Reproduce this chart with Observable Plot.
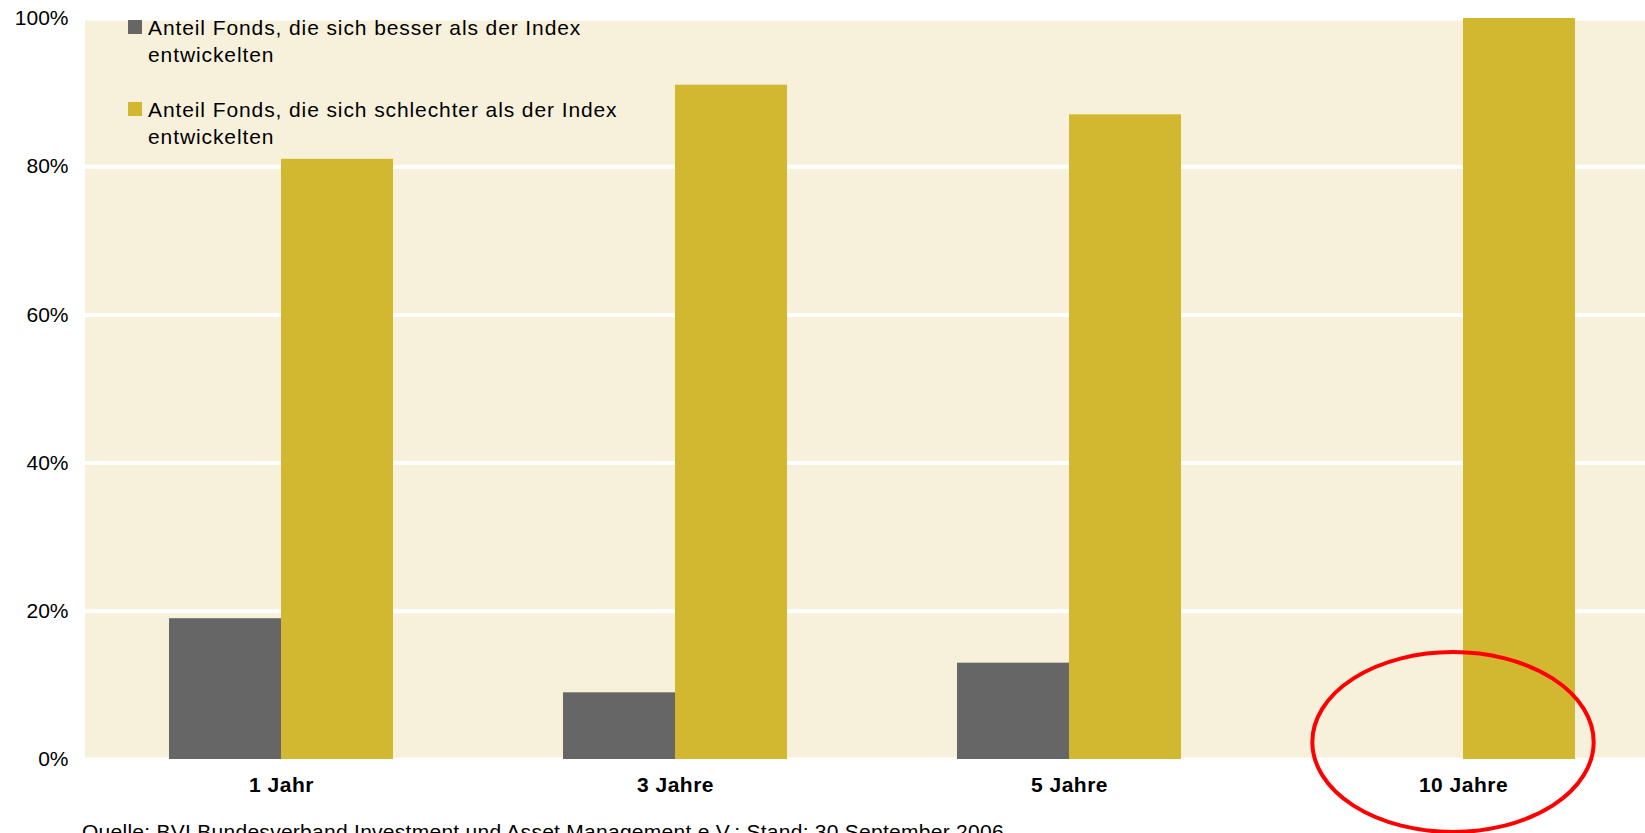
<!DOCTYPE html>
<html>
<head>
<meta charset="utf-8">
<script src="https://cdn.jsdelivr.net/npm/d3@7"></script>
<script src="https://cdn.jsdelivr.net/npm/@observablehq/plot@0.6"></script>
<style>
  html, body { margin: 0; padding: 0; background: #ffffff; }
  body { width: 1645px; height: 833px; overflow: hidden; position: relative;
         font-family: "Liberation Sans", Arial, sans-serif; color: #000; }
  #chart { position: absolute; left: 0; top: 0; width: 1660px; }
  #chart svg { overflow: visible; max-width: none !important; }
  [aria-label^="fx-axis"] text { font-weight: bold; letter-spacing: 0.5px; }
  .legend-item { position: absolute; left: 128px; font-size: 21px; line-height: 27px; letter-spacing: 0.9px; }
  .legend-item .sw { position: absolute; left: 0; width: 14px; height: 14px; }
  .legend-item .tx { position: absolute; left: 20px; white-space: nowrap; }
  #caption { position: absolute; left: 82px; top: 821px; font-size: 21px; line-height: 21px; letter-spacing: 0.27px; white-space: nowrap; }
</style>
</head>
<body>
<div id="chart"></div>
<div id="legend"></div>
<div id="caption"></div>
<script>
// ---- data ----
const periods = ["1 Jahr", "3 Jahre", "5 Jahre", "10 Jahre"];
const seriesNames = [
  "Anteil Fonds, die sich besser als der Index entwickelten",
  "Anteil Fonds, die sich schlechter als der Index entwickelten"
];
const legendLines = [
  ["Anteil Fonds, die sich besser als der Index", "entwickelten"],
  ["Anteil Fonds, die sich schlechter als der Index", "entwickelten"]
];
const besser = [19, 9, 13, 0];
const schlechter = [81, 91, 87, 100];
const yTicks = [0, 20, 40, 60, 80, 100];
const seriesColors = ["#666666", "#D2B830"];
const bgColor = "#F7F1DC";
const captionText = "Quelle: BVI Bundesverband Investment und Asset Management e.V.; Stand: 30 September 2006";

const rows = periods.flatMap((p, i) => [
  {period: p, series: seriesNames[0], value: besser[i]},
  {period: p, series: seriesNames[1], value: schlechter[i]}
]);

const chart = Plot.plot({
  width: 1660,
  height: 833,
  marginLeft: 84,
  marginRight: 0,
  marginTop: 18,
  marginBottom: 74,
  style: {fontFamily: '"Liberation Sans", Arial, sans-serif', fontSize: "21px", color: "#000", background: "transparent", overflow: "visible", maxWidth: "none"},
  facet: {data: rows, x: "period"},
  fx: {domain: periods, padding: 0, label: null, axis: "bottom", tickSize: 0, tickPadding: 18},
  x: {domain: seriesNames, axis: null, paddingInner: 0, paddingOuter: 0.744},
  y: {domain: [0, 100], ticks: yTicks, tickFormat: d => d + "%", tickSize: 0, tickPadding: 16, label: null},
  color: {domain: seriesNames, range: seriesColors},
  marks: [
    Plot.frame({fill: bgColor, stroke: "none", shapeRendering: "crispEdges"}),
    Plot.ruleY(yTicks, {stroke: "#ffffff", strokeWidth: 4}),
    Plot.barY(rows, {x: "series", y: "value", fill: "series"})
  ]
});
chart.style.maxWidth = "none";
document.getElementById("chart").appendChild(chart);

// highlight ellipse around the "10 Jahre" category, positioned from the plot's scales
const fxS = chart.scale("fx");
const yS = chart.scale("y");
const bw = (fxS.range[1] - fxS.range[0]) / fxS.domain.length;
const idx = fxS.domain.indexOf("10 Jahre");
const yMap = v => yS.range[0] + (v - yS.domain[0]) / (yS.domain[1] - yS.domain[0]) * (yS.range[1] - yS.range[0]);
d3.select(chart).append("ellipse")
  .attr("cx", fxS.range[0] + (idx + 0.5) * bw - 10)
  .attr("cy", yMap(0) - 17)
  .attr("rx", bw * 0.357)
  .attr("ry", 90)
  .attr("fill", "none")
  .attr("stroke", "#FF0000")
  .attr("stroke-width", 4);

// legend
const legend = document.getElementById("legend");
const legendTops = [14, 96];
legendLines.forEach((lines, i) => {
  const item = document.createElement("div");
  item.className = "legend-item";
  item.style.top = legendTops[i] + "px";
  const sw = document.createElement("div");
  sw.className = "sw";
  sw.style.background = seriesColors[i];
  sw.style.top = "6px";
  item.appendChild(sw);
  const tx = document.createElement("div");
  tx.className = "tx";
  tx.innerHTML = lines.join("<br>");
  item.appendChild(tx);
  legend.appendChild(item);
});

document.getElementById("caption").textContent = captionText;
</script>
</body>
</html>
